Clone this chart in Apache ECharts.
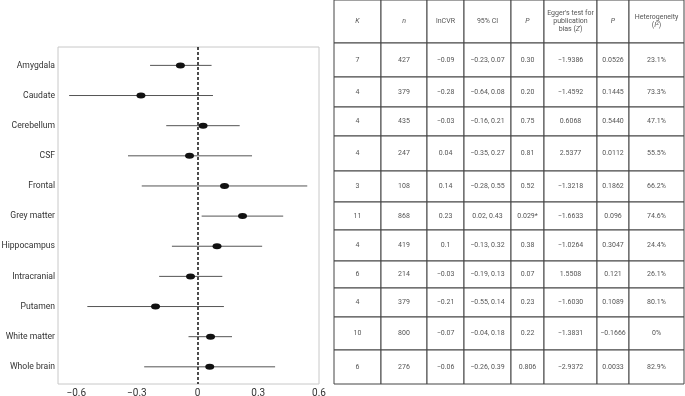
<!DOCTYPE html>
<html>
<head>
<meta charset="utf-8">
<script src="https://cdn.jsdelivr.net/npm/echarts@6.0.0/dist/echarts.min.js"></script>
<style>
  html, body { margin: 0; padding: 0; background: #fff; }
  #forestChart { width: 685px; height: 396px; }
</style>
</head>
<body>
<div id="forestChart"></div>
<script>
// regions, top to bottom
var regions = ['Amygdala', 'Caudate', 'Cerebellum', 'CSF', 'Frontal', 'Grey matter',
  'Hippocampus', 'Intracranial', 'Putamen', 'White matter', 'Whole brain'];

// forest plot
var estimate = [-0.085, -0.28, 0.027, -0.04, 0.133, 0.222, 0.096, -0.035, -0.208, 0.064, 0.06];
var ciLow = [-0.235, -0.635, -0.155, -0.344, -0.276, 0.02, -0.127, -0.19, -0.545, -0.045, -0.264];
var ciHigh = [0.069, 0.076, 0.208, 0.269, 0.542, 0.423, 0.319, 0.122, 0.13, 0.17, 0.383];
var xTicks = [-0.6, -0.3, 0, 0.3, 0.6];

// table columns
var headers = ['{i|K}', '{i|n}', 'lnCVR', '95% CI', '{i|P}',
  "Egger's test for\npublication\nbias ({i|Z})", '{i|P}', 'Heterogeneity\n({i|I}{sup|2})'];
var colK = ['7', '4', '4', '4', '3', '11', '4', '6', '4', '10', '6'];
var colN = ['427', '379', '435', '247', '108', '868', '419', '214', '379', '800', '276'];
var colLnCVR = ['−0.09', '−0.28', '−0.03', '0.04', '0.14', '0.23', '0.1', '−0.03', '−0.21', '−0.07', '−0.06'];
var colCI = ['−0.23, 0.07', '−0.64, 0.08', '−0.16, 0.21', '−0.35, 0.27', '−0.28, 0.55', '0.02, 0.43',
  '−0.13, 0.32', '−0.19, 0.13', '−0.55, 0.14', '−0.04, 0.18', '−0.26, 0.39'];
var colP = ['0.30', '0.20', '0.75', '0.81', '0.52', '0.029*', '0.38', '0.07', '0.23', '0.22', '0.806'];
var colEgger = ['−1.9386', '−1.4592', '0.6068', '2.5377', '−1.3218', '−1.6633', '−1.0264', '1.5508',
  '−1.6030', '−1.3831', '−2.9372'];
var colEggerP = ['0.0526', '0.1445', '0.5440', '0.0112', '0.1862', '0.096', '0.3047', '0.121', '0.1089',
  '−0.1666', '0.0033'];
var colHet = ['23.1%', '73.3%', '47.1%', '55.5%', '66.2%', '74.6%', '24.4%', '26.1%', '80.1%', '0%', '82.9%'];

// table layout (cell edges in table units)
var colEdges = [0, 47, 93, 130, 177, 210, 263, 295, 350];
var rowEdges = [0, 43, 77, 107, 136, 171, 202, 230, 261, 288, 317, 350, 384];

var FONT = 'Roboto';

var columns = [colK, colN, colLnCVR, colCI, colP, colEgger, colEggerP, colHet];
var cells = [];
for (var c = 0; c < columns.length; c++) {
  cells.push([c, 0, headers[c]]);
  for (var r = 0; r < regions.length; r++) {
    cells.push([c, r + 1, columns[c][r]]);
  }
}

var barData = regions.map(function (name, i) { return [ciLow[i], ciHigh[i], i]; });
var dotData = regions.map(function (name, i) { return [estimate[i], i]; });

function fmtTick(v) {
  var s = String(Math.round(Math.abs(v) * 10) / 10);
  return v < 0 ? '−' + s : s;
}

var mychart = echarts.init(document.getElementById('forestChart'));

let option = {
  animation: false,
  grid: [
    {
      left: 58, top: 47, width: 261, height: 337, outerBoundsMode: 'none',
      show: true, borderColor: '#c8c8c8', borderWidth: 1
    },
    { left: 334, top: 0, width: 350, height: 384, outerBoundsMode: 'none' }
  ],
  xAxis: [
    {
      gridIndex: 0, type: 'value', min: -0.69, max: 0.6,
      axisLine: { show: false }, axisTick: { show: false }, splitLine: { show: false },
      axisLabel: {
        customValues: xTicks, formatter: fmtTick, margin: 4,
        color: '#333', fontFamily: FONT, fontSize: 10
      }
    },
    { gridIndex: 1, type: 'value', min: 0, max: 350, show: false }
  ],
  yAxis: [
    {
      gridIndex: 0, type: 'value', inverse: true, min: -0.61, max: 10.57,
      axisLine: { show: false }, axisTick: { show: false }, splitLine: { show: false },
      axisLabel: {
        customValues: regions.map(function (n, i) { return i; }),
        formatter: function (v) { return regions[Math.round(v)]; },
        margin: 3, color: '#333', fontFamily: FONT, fontSize: 8.6
      }
    },
    { gridIndex: 1, type: 'value', inverse: true, min: 0, max: 384, show: false }
  ],
  series: [
    {
      type: 'custom',
      xAxisIndex: 0, yAxisIndex: 0,
      data: barData,
      renderItem: function (params, api) {
        var a = api.coord([api.value(0), api.value(2)]);
        var b = api.coord([api.value(1), api.value(2)]);
        return {
          type: 'line',
          shape: { x1: a[0], y1: a[1], x2: b[0], y2: b[1] },
          style: { stroke: '#555', lineWidth: 1 }
        };
      },
      markLine: {
        silent: true, symbol: 'none', label: { show: false },
        lineStyle: { color: '#111', width: 1.5, type: [3, 2] },
        data: [{ xAxis: 0 }]
      },
      z: 2
    },
    {
      type: 'scatter',
      xAxisIndex: 0, yAxisIndex: 0,
      data: dotData,
      symbol: 'circle',
      symbolSize: [9, 6],
      itemStyle: { color: '#111', opacity: 1 },
      z: 3
    },
    {
      type: 'custom',
      xAxisIndex: 1, yAxisIndex: 1,
      data: cells,
      renderItem: function (params, api) {
        var c = api.value(0), r = api.value(1);
        var p0 = api.coord([colEdges[c], rowEdges[r]]);
        var p1 = api.coord([colEdges[c + 1], rowEdges[r + 1]]);
        var txt = cells[params.dataIndex][2];
        return {
          type: 'group',
          children: [
            {
              type: 'rect',
              shape: { x: p0[0], y: p0[1], width: p1[0] - p0[0], height: p1[1] - p0[1] },
              style: { fill: '#fff', stroke: '#444', lineWidth: 1 }
            },
            {
              type: 'text',
              x: (p0[0] + p1[0]) / 2, y: (p0[1] + p1[1]) / 2,
              style: {
                text: txt, align: 'center', verticalAlign: 'middle',
                fill: '#555', fontFamily: FONT, fontSize: 7, lineHeight: 8,
                rich: {
                  i: { fontStyle: 'italic', fontFamily: FONT, fontSize: 7, fill: '#555', lineHeight: 8 },
                  sup: { fontSize: 5, fontFamily: FONT, fill: '#555', verticalAlign: 'top', lineHeight: 8 }
                }
              }
            }
          ]
        };
      }
    }
  ]
};

mychart.setOption(option);
</script>
</body>
</html>
